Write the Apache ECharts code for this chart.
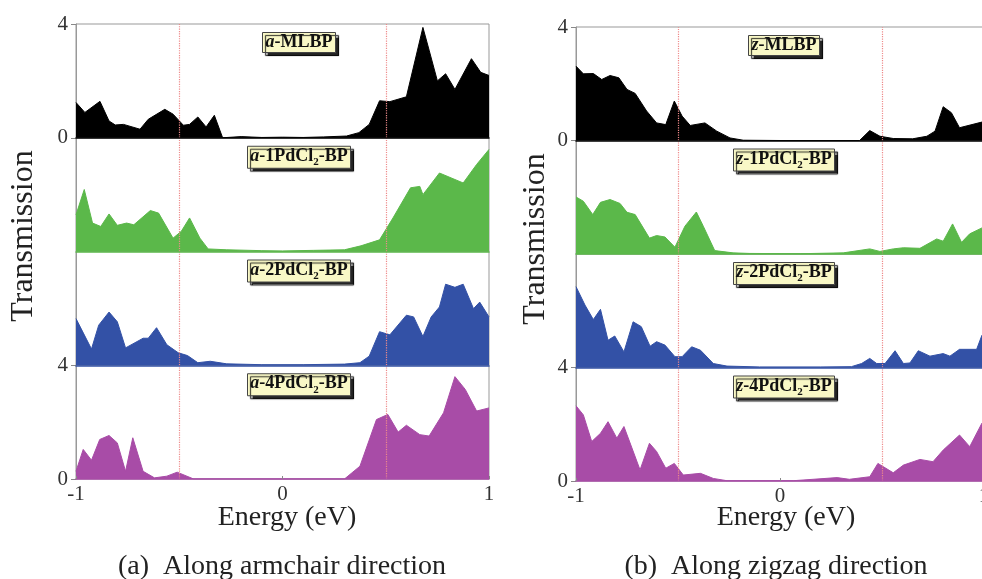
<!DOCTYPE html>
<html>
<head>
<meta charset="utf-8">
<script src="https://cdn.jsdelivr.net/npm/echarts@6/dist/echarts.min.js"></script>
<style>html,body{margin:0;padding:0;background:#fff}#c{width:982px;height:579px}</style>
</head>
<body>
<div id="c"></div>
<script>
// ---- data: [energy (eV), transmission] ----
const aMLBP = [[-1,1.24],[-0.957,0.89],[-0.884,1.28],[-0.84,0.59],[-0.81,0.45],[-0.77,0.47],[-0.69,0.30],[-0.65,0.65],[-0.57,1.0],[-0.53,0.83],[-0.48,0.44],[-0.45,0.47],[-0.41,0.73],[-0.37,0.38],[-0.33,0.79],[-0.29,0],[-0.2,0.04],[-0.1,0.01],[0,0.02],[0.1,0.01],[0.2,0.03],[0.31,0.06],[0.37,0.18],[0.42,0.47],[0.47,1.3],[0.52,1.27],[0.60,1.44],[0.68,3.88],[0.71,3.08],[0.75,2.0],[0.79,2.25],[0.835,1.7],[0.915,2.78],[0.96,2.3],[1,2.19]];
const a1PdCl2 = [[-1,1.29],[-0.96,2.18],[-0.92,1.0],[-0.88,0.88],[-0.84,1.32],[-0.80,0.92],[-0.755,1.0],[-0.72,0.94],[-0.64,1.44],[-0.60,1.35],[-0.53,0.47],[-0.49,0.71],[-0.45,1.18],[-0.40,0.47],[-0.36,0.09],[-0.27,0.06],[-0.1,0.03],[0,0.02],[0.15,0.04],[0.30,0.06],[0.38,0.2],[0.47,0.41],[0.535,1.18],[0.62,2.24],[0.665,2.29],[0.68,2.0],[0.76,2.76],[0.875,2.41],[0.94,3.06],[1,3.59]];
const a2PdCl2 = [[-1,1.64],[-0.925,0.57],[-0.89,1.41],[-0.84,1.87],[-0.80,1.53],[-0.76,0.61],[-0.675,0.95],[-0.65,0.95],[-0.61,1.32],[-0.56,0.72],[-0.505,0.44],[-0.46,0.34],[-0.41,0.09],[-0.35,0.14],[-0.27,0.05],[-0.1,0.02],[0.1,0.02],[0.3,0.04],[0.375,0.09],[0.42,0.32],[0.47,1.18],[0.52,1.07],[0.60,1.76],[0.635,1.7],[0.68,1.01],[0.72,1.7],[0.76,2.05],[0.79,2.85],[0.835,2.74],[0.875,2.85],[0.925,1.99],[0.955,2.22],[1,1.7]];
const a4PdCl2 = [[-1,0.27],[-0.965,1.04],[-0.925,0.66],[-0.885,1.39],[-0.84,1.53],[-0.80,1.27],[-0.76,0.27],[-0.725,1.45],[-0.675,0.27],[-0.62,0.04],[-0.56,0.1],[-0.51,0.24],[-0.43,0],[0.3,0],[0.375,0.45],[0.455,2.09],[0.51,2.27],[0.56,1.65],[0.60,1.89],[0.665,1.56],[0.71,1.51],[0.78,2.33],[0.835,3.6],[0.885,3.15],[0.94,2.39],[1,2.5]];
const zMLBP = [[-1,2.62],[-0.964,2.35],[-0.915,2.36],[-0.874,2.15],[-0.833,2.29],[-0.79,2.21],[-0.75,1.8],[-0.71,1.66],[-0.654,1.04],[-0.605,0.62],[-0.56,0.56],[-0.518,1.39],[-0.48,0.86],[-0.44,0.53],[-0.368,0.62],[-0.31,0.33],[-0.245,0.09],[-0.18,0.01],[0,0],[0.39,0],[0.44,0.35],[0.49,0.15],[0.555,0.07],[0.65,0.06],[0.72,0.15],[0.76,0.33],[0.80,1.19],[0.84,0.98],[0.88,0.45],[0.99,0.65],[1,0.67]];
const z1PdCl2 = [[-1,2.01],[-0.964,1.86],[-0.918,1.39],[-0.88,1.82],[-0.833,1.92],[-0.784,1.78],[-0.75,1.47],[-0.71,1.39],[-0.64,0.56],[-0.605,0.65],[-0.564,0.6],[-0.515,0.24],[-0.466,0.98],[-0.41,1.48],[-0.376,0.98],[-0.32,0.12],[-0.23,0.04],[-0.15,0.02],[0.1,0.01],[0.31,0.04],[0.44,0.18],[0.49,0.09],[0.555,0.18],[0.605,0.22],[0.686,0.2],[0.768,0.53],[0.80,0.45],[0.846,1.06],[0.89,0.41],[0.93,0.71],[0.99,0.92],[1,0.95]];
const z2PdCl2 = [[-1,2.85],[-0.956,2.2],[-0.915,1.69],[-0.88,2.05],[-0.843,0.96],[-0.81,1.11],[-0.765,0.55],[-0.72,1.61],[-0.68,1.44],[-0.637,0.75],[-0.605,0.91],[-0.564,0.79],[-0.515,0.38],[-0.48,0.38],[-0.433,0.73],[-0.39,0.61],[-0.327,0.14],[-0.26,0.05],[-0.1,0.02],[0.2,0.02],[0.35,0.03],[0.40,0.14],[0.44,0.32],[0.474,0.14],[0.515,0.14],[0.564,0.59],[0.605,0.14],[0.637,0.16],[0.678,0.59],[0.735,0.4],[0.80,0.49],[0.833,0.4],[0.88,0.64],[0.964,0.64],[0.99,1.14],[1,1.2]];
const z4PdCl2 = [[-1,2.65],[-0.964,2.33],[-0.923,1.39],[-0.88,1.68],[-0.843,2.09],[-0.80,1.51],[-0.765,1.92],[-0.722,1.09],[-0.686,0.39],[-0.64,1.33],[-0.605,1.04],[-0.56,0.45],[-0.518,0.62],[-0.474,0.21],[-0.39,0.27],[-0.327,0.09],[-0.26,0.01],[0.065,0.01],[0.28,0.12],[0.34,0.06],[0.44,0.15],[0.48,0.62],[0.555,0.29],[0.605,0.56],[0.686,0.76],[0.75,0.68],[0.80,1.09],[0.88,1.62],[0.93,1.21],[0.99,2.04],[1,2.1]];

const leftSeries = [aMLBP, a1PdCl2, a2PdCl2, a4PdCl2];
const rightSeries = [zMLBP, z1PdCl2, z2PdCl2, z4PdCl2];
const leftLabels = ['{i|a}{n|-MLBP}', '{i|a}{n|-1PdCl}{s|2}{n|-BP}', '{i|a}{n|-2PdCl}{s|2}{n|-BP}', '{i|a}{n|-4PdCl}{s|2}{n|-BP}'];
const rightLabels = ['{i|z}{n|-MLBP}', '{i|z}{n|-1PdCl}{s|2}{n|-BP}', '{i|z}{n|-2PdCl}{s|2}{n|-BP}', '{i|z}{n|-4PdCl}{s|2}{n|-BP}'];
const xTicks = [-1, 0, 1];
const yTicks = [0, 4];
const refLines = [-0.5, 0.5];
const xTitle = 'Energy (eV)';
const yTitle = 'Transmission';
const captions = ['(a)  Along armchair direction', '(b)  Along zigzag direction'];

// ---- styling ----
const colors = ['#000000', '#5bb84a', '#3351a6', '#a84ca7'];
const FONT = "'Liberation Serif', 'Times New Roman', serif";
const panels = [
  {left: 76, width: 413, top: 24, h: 113.75, labelX: 296, series: leftSeries, labels: leftLabels, titleX: 282, capX: 277, yTitleX: 24, yTitleY: 236},
  {left: 576, width: 408, top: 27, h: 113.5, labelX: 781, series: rightSeries, labels: rightLabels, titleX: 781, capX: 771, yTitleX: 536, yTitleY: 239}
];

const grid = [], xAxis = [], yAxis = [], series = [], title = [], graphic = [];
const rich = {
  i: {fontFamily: FONT, fontStyle: 'italic', fontWeight: 'bold', fontSize: 18, color: '#111', lineHeight: 23},
  n: {fontFamily: FONT, fontWeight: 'bold', fontSize: 18, color: '#111', lineHeight: 23},
  s: {fontFamily: FONT, fontWeight: 'bold', fontSize: 11, color: '#111', verticalAlign: 'bottom'}
};

panels.forEach((p, pi) => {
  for (let k = 0; k < 4; k++) {
    const gi = grid.length;
    const top = p.top + k * p.h;
    grid.push({left: p.left, width: p.width, top: top, height: p.h, show: true, borderColor: '#999', borderWidth: 1,
      backgroundColor: 'transparent', containLabel: false, outerBoundsMode: 'none'});
    const bottom = k === 3;
    const labeled = k === 0 || k === 3;
    xAxis.push({
      gridIndex: gi, type: 'value', min: xTicks[0], max: xTicks[xTicks.length - 1], interval: 1, z: 5,
      axisLine: {show: true, lineStyle: {color: colors[k], width: 1.5}},
      axisTick: {show: bottom, inside: true, length: 3, lineStyle: {color: '#888'}},
      axisLabel: {show: bottom, fontFamily: FONT, fontSize: 21, color: '#333', margin: 5,
        formatter: v => (xTicks.indexOf(v) >= 0 ? String(v) : '')},
      splitLine: {show: false}
    });
    yAxis.push({
      gridIndex: gi, type: 'value', min: yTicks[0], max: yTicks[1], interval: 4,
      axisLine: {show: true, onZero: false, lineStyle: {color: '#999'}},
      axisTick: {show: labeled, length: 5, lineStyle: {color: '#888'}},
      axisLabel: {show: labeled, fontFamily: FONT, fontSize: 21, color: '#333', margin: 8},
      splitLine: {show: false}
    });
    // reference lines (drawn below the fill)
    series.push({
      type: 'line', xAxisIndex: gi, yAxisIndex: gi, data: [[-1, 0]], symbol: 'none', z: 1,
      lineStyle: {opacity: 0}, silent: true,
      markLine: {silent: true, symbol: 'none', label: {show: false},
        lineStyle: {color: '#ee8a8a', type: 'dotted', width: 1.2},
        data: refLines.map(v => ({xAxis: v}))}
    });
    series.push({
      type: 'line', xAxisIndex: gi, yAxisIndex: gi, data: p.series[k], symbol: 'none', z: 2,
      lineStyle: {color: colors[k], width: 1}, itemStyle: {color: colors[k]},
      areaStyle: {color: colors[k], opacity: 1}
    });
    title.push({
      text: p.labels[k], left: p.labelX, top: top + 6, textAlign: 'center',
      textStyle: {rich: rich, fontWeight: 'bold'},
      backgroundColor: '#f9f8c6', borderColor: '#444', borderWidth: 1,
      padding: [1, 3, 1, 3],
      shadowColor: 'rgba(0,0,0,0.85)', shadowOffsetX: 3, shadowOffsetY: 3, shadowBlur: 1
    });
  }
  graphic.push({
    type: 'text', x: p.yTitleX, y: p.yTitleY, rotation: Math.PI / 2,
    style: {text: yTitle, font: '32px ' + FONT, fill: '#222', align: 'center', verticalAlign: 'middle'}
  });
  title.push({text: xTitle, left: p.titleX, top: 499, textAlign: 'center',
    textStyle: {fontFamily: FONT, fontSize: 28, fontWeight: 'normal', color: '#222'}});
  title.push({text: captions[pi], left: p.capX, top: 548, textAlign: 'center',
    textStyle: {fontFamily: FONT, fontSize: 28, fontWeight: 'normal', color: '#222'}});
});

const chart = echarts.init(document.getElementById('c'));
chart.setOption({
  animation: false,
  backgroundColor: '#fff',
  title: title,
  grid: grid,
  xAxis: xAxis,
  yAxis: yAxis,
  series: series,
  graphic: graphic
});
</script>
</body>
</html>
